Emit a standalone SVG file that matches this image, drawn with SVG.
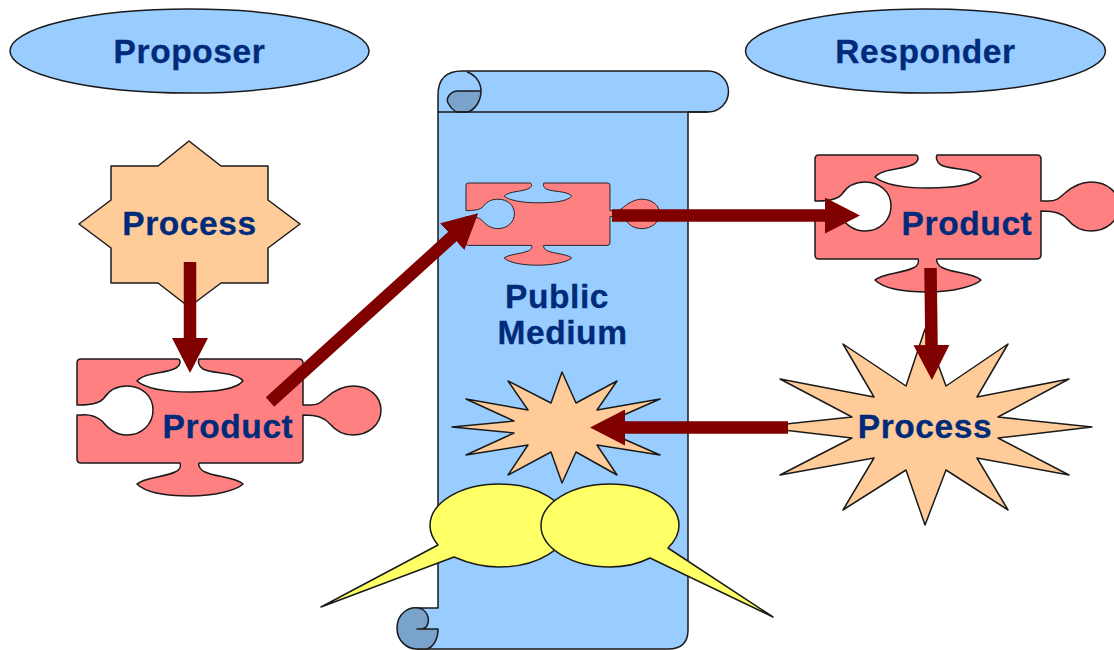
<svg xmlns="http://www.w3.org/2000/svg" width="1114" height="650" viewBox="0 0 1114 650">
<style>
.o{stroke:#1a1a1a;stroke-width:1.5;stroke-linejoin:round}
.lane{fill:#99ccff}
.scroll{fill:#99ccff}
.curl{fill:#7aa3cc}
.line{fill:none}
.pz{fill:#ff8080;vector-effect:non-scaling-stroke}
.st{fill:#ffcc99}
.y{fill:#ffff66}
.t{font-family:"Liberation Sans",Arial,sans-serif;font-weight:700;font-size:33.5px;letter-spacing:.6px;fill:#002a7a;stroke:#002a7a;stroke-width:.3px;text-anchor:middle}
.c{fill:none;stroke:#800000;stroke-width:12.5}
</style>
<defs>
<marker id="ah" markerUnits="userSpaceOnUse" markerWidth="36" markerHeight="36" refX="1" refY="18" orient="auto" viewBox="0 0 36 36"><path d="M0 0L35 18L0 36Z" fill="#800000"/></marker>
<path id="puzzle" d="M81 359H178C181 360 181 365 176 368C165 374 145 372 137 381C145 388 165 392 190 392C215 392 235 390 243 381C237 372 212 374 203 369C198 366 198 361 199 359H299Q303 359 303 363V405H310C320 405 322 401 327 397C335 390 345 386 353 386C370 386 381 397 381 410C381 425 368 435 353 435C342 435 335 430 330 424C325 418 318 415 303 415V459Q303 463 298 463H199C198 465 200 470 205 472C215 477 235 477 243 484C237 490 215 496 190 496C165 496 145 492 137 484C143 478 165 477 175 472C180 470 181 466 180 463H81Q77 463 77 459V415H82C92 414 98 418 102 421C108 428 115 435 127 435C142 435 153 424 153 410C153 396 142 386 127 386C115 386 108 392 104 398C100 403 92 405 80 405H77V363Q77 359 81 359Z"/>
</defs>
<g id="proposer"><ellipse class="lane o" cx="189.5" cy="51" rx="179.5" ry="42"/><text class="t" x="189.5" y="62.500">Proposer</text></g>
<g id="responder"><ellipse class="lane o" cx="925.5" cy="51" rx="180" ry="42"/><text class="t" x="925.5" y="62.500">Responder</text></g>
<g id="public-medium">
<path class="scroll o" d="M438 95Q438 71 462 71H708A20.500 20.500 0 0 1 708 112H688V630Q688 649 668 649H417V608H438Z"/>
<path class="curl o" d="M481 91H457C449 92 446 99 448 103C450 107 453 110 456 112H468C476 109 481 100 481 91Z"/>
<path class="line o" d="M467 72C476 75 481 83 481 91M438 112H708"/>
<path class="curl o" d="M438 629H417H422C430 627 431 615 422 609C408 604 397 615 397 628C397 641 407 649 417 649H427C433 647 438 640 438 629Z"/>
<text class="t" x="557" y="307.500">Public</text>
<text class="t" x="562.500" y="344">Medium</text>
</g>
<g id="process-left"><polygon class="st o" points="189,141 221,166 268,166 268,200 300,224 268,248 268,283 221,283 189,307 158,283 111,283 111,248 79,224 111,200 111,166 158,166"/><text class="t" x="189.500" y="235">Process</text></g>
<g id="product-left"><use href="#puzzle" class="pz o"/><text class="t" x="228" y="438">Product</text></g>
<g id="product-mid"><use href="#puzzle" class="pz o" transform="translate(466 183) scale(.637 .6) translate(-77 -359)"/></g>
<g id="product-right"><use href="#puzzle" class="pz o" transform="translate(738 -204)"/><text class="t" x="967" y="235">Product</text></g>
<g id="process-right"><polygon class="st o" points="925,329 946,386 1008,344 977,397 1069,379 998,417 1092,427 998,438 1069,475 977,458 1008,510 946,470 925,525 906,470 843,510 874,458 780,475 852,438 758,427 852,417 780,379 874,397 843,344 906,386"/><text class="t" x="925" y="438">Process</text></g>
<g id="process-mid"><polygon class="st o" points="562,372 576,403 617,381 597,410 660,399 610,421 672,427 610,433 660,455 597,445 617,475 576,452 562,483 551,452 508,475 528,445 466,455 514,433 452,427 514,421 466,399 528,410 508,381 551,403"/></g>
<g id="callout-left"><path class="y o" d="M438 545L321 607L454 557C470 564 482 567 499 567C537 567 568 548.400 568 525.500C568 502.600 537 484 499 484C461 484 430 502.600 430 525.500C430 532 433 539 438 545Z"/></g>
<g id="callout-right"><path class="y o" d="M668 548L773 617L650 558C638 564 625 567 610 567C572 567 541 548.400 541 525.500C541 502.600 572 484 610 484C648 484 679 502.600 679 525.500C679 533 675 541 668 548Z"/></g>
<g id="connectors">
<line class="c" x1="190" y1="262" x2="190" y2="339" marker-end="url(#ah)"/>
<line class="c" x1="270" y1="402" x2="453" y2="236" marker-end="url(#ah)"/>
<line class="c" x1="612" y1="215.500" x2="826" y2="215.500" marker-end="url(#ah)"/>
<line class="c" x1="930.500" y1="268" x2="931.500" y2="346" marker-end="url(#ah)"/>
<line class="c" x1="788" y1="427.500" x2="624" y2="427.500" marker-end="url(#ah)"/>
</g>
</svg>
